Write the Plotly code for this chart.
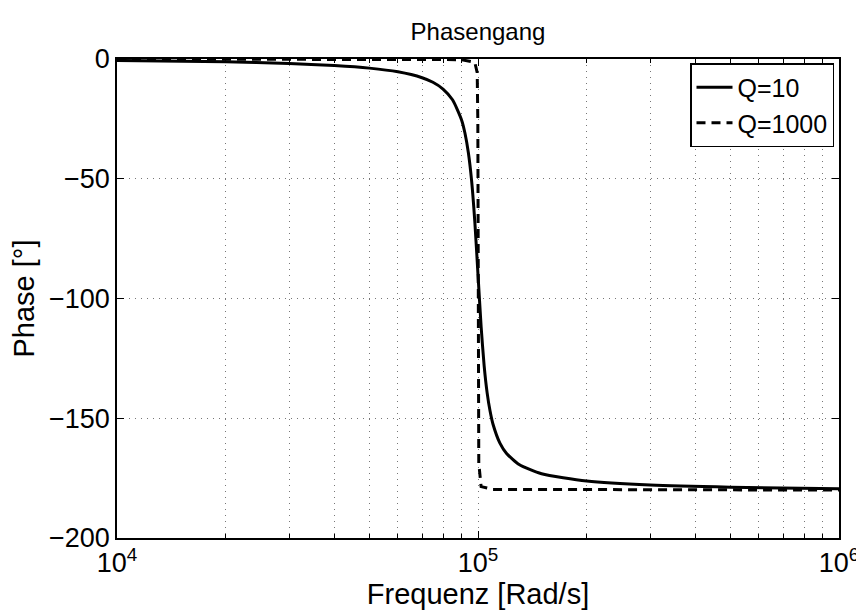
import plotly.graph_objects as go

# Q = 10 curve (frequency in rad/s, phase in degrees)
w_q10 = [1e4, 2e4, 3e4, 4e4, 5e4, 6e4, 7e4, 7.5e4, 8e4, 8.5e4, 9e4, 9.2e4, 9.4e4,
         9.6e4, 9.8e4, 1e5, 1.02e5, 1.04e5, 1.06e5, 1.08e5, 1.1e5, 1.15e5, 1.2e5,
         1.3e5, 1.5e5, 2e5, 3e5, 5e5, 1e6]
ph_q10 = [-0.58, -1.19, -1.89, -2.73, -3.81, -5.36, -7.82, -9.73, -12.53, -17.03,
          -25.35, -30.92, -38.93, -50.76, -68.0, -90.0, -111.6, -128.1, -139.4,
          -147.0, -152.4, -160.4, -164.7, -169.3, -173.2, -176.2, -177.9, -178.8,
          -179.4]

# Q = 1000 curve
w_q1000 = [1e4, 5e4, 9e4, 9.8e4, 9.95e4, 9.99e4, 1e5, 1.001e5, 1.005e5, 1.02e5,
           1.1e5, 1e6]
ph_q1000 = [-0.01, -0.04, -0.27, -1.42, -5.7, -26.5, -90.0, -153.5, -168.7,
            -178.55, -179.7, -179.99]

x_tickvals = [1e4, 1e5, 1e6]
x_ticktext = ["10<sup>4</sup>", "10<sup>5</sup>", "10<sup>6</sup>"]
y_tickvals = [0, -50, -100, -150, -200]
y_ticktext = ["0", "\u221250", "\u2212100", "\u2212150", "\u2212200"]

FONT = "Liberation Sans, Arial, Helvetica, sans-serif"
GRID = "#777777"

# page body has an 8px margin: figure is 856x606 placed at (8, 8)
W, H = 856, 606
ML, MR, MT, MB = 109, 25, 51, 76
PW, PH = W - ML - MR, H - MT - MB

fig = go.Figure()
fig.add_trace(go.Scatter(x=w_q10, y=ph_q10, mode="lines", name="Q=10",
                         line=dict(color="black", width=3, shape="spline", smoothing=0.6)))
fig.add_trace(go.Scatter(x=w_q1000, y=ph_q1000, mode="lines", name="Q=1000",
                         line=dict(color="black", width=3, dash="9px,6px")))

fig.update_layout(
    width=W, height=H,
    margin=dict(l=ML, r=MR, t=MT, b=MB),
    paper_bgcolor="white", plot_bgcolor="white",
    font=dict(family=FONT, color="black", size=27),
    title=dict(text="Phasengang", x=0.5, xref="paper", xanchor="center",
               y=1 - 24 / H, yanchor="middle", font=dict(size=24)),
    showlegend=True,
    legend=dict(x=1 - 5 / PW, y=1 - 4 / PH, xanchor="right", yanchor="top",
                bordercolor="black", borderwidth=1.5, bgcolor="white",
                font=dict(size=25), tracegroupgap=0, itemwidth=36),
)

fig.update_xaxes(
    type="log", range=[4, 6], automargin=False,
    tickvals=x_tickvals, ticktext=x_ticktext,
    ticks="inside", ticklen=7, tickcolor="black", tickwidth=1,
    showline=True, linecolor="black", linewidth=1.5, mirror="allticks",
    showgrid=True, gridcolor=GRID, griddash="1px,5px", gridwidth=1,
    minor=dict(dtick="D1", ticks="inside", ticklen=4, tickcolor="black",
               showgrid=True, gridcolor=GRID, griddash="1px,5px", gridwidth=1),
    title=dict(text="Frequenz [Rad/s]", standoff=3, font=dict(size=29)),
    tickfont=dict(size=27), zeroline=False,
)
fig.update_yaxes(
    range=[-200, 0], automargin=False,
    tickvals=y_tickvals, ticktext=y_ticktext,
    ticks="inside", ticklen=7, tickcolor="black", tickwidth=1,
    showline=True, linecolor="black", linewidth=1.5, mirror="allticks",
    showgrid=True, gridcolor=GRID, griddash="1px,5px", gridwidth=1,
    title=dict(text="Phase [°]", standoff=8, font=dict(size=29)),
    tickfont=dict(size=27), zeroline=False,
)

fig.write_html("out.html")
